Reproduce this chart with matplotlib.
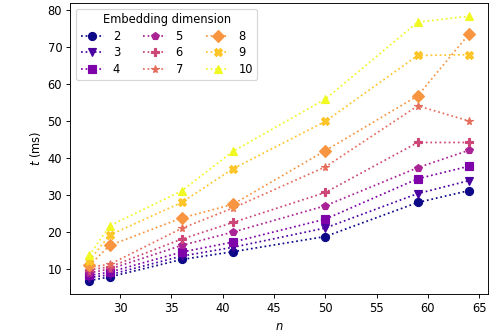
import numpy as np
import matplotlib
matplotlib.use("Agg")
import matplotlib.pyplot as plt

# sequence lengths
n = [27, 29, 36, 41, 50, 59, 64]

dims = [2, 3, 4, 5, 6, 7, 8, 9, 10]
markers = ["o", "v", "s", "p", "P", "*", "D", "X", "^"]

# time in ms, one list per embedding dimension
t_d2 = [6.9, 7.9, 12.6, 14.7, 18.8, 28.0, 31.2]
t_d3 = [7.7, 8.5, 13.5, 15.9, 21.1, 30.4, 33.9]
t_d4 = [8.3, 9.2, 14.6, 17.3, 23.5, 34.4, 37.8]
t_d5 = [9.0, 10.0, 16.4, 20.0, 27.1, 37.4, 42.1]
t_d6 = [9.8, 10.6, 18.1, 22.6, 30.7, 44.2, 44.2]
t_d7 = [10.5, 11.3, 21.0, 26.5, 37.6, 54.1, 50.0]
t_d8 = [11.0, 16.4, 23.8, 27.5, 42.0, 56.8, 73.5]
t_d9 = [12.3, 19.2, 28.0, 37.1, 49.9, 67.7, 67.9]
t_d10 = [13.7, 21.7, 31.1, 41.8, 55.9, 76.7, 78.3]

series = [t_d2, t_d3, t_d4, t_d5, t_d6, t_d7, t_d8, t_d9, t_d10]
colors = plt.cm.plasma(np.linspace(0, 1, len(dims)))

fig, ax = plt.subplots(figsize=(6, 4), dpi=83)
fig.subplots_adjust(left=0.141, right=0.98, top=0.991, bottom=0.115)

for d, t, m, c in zip(dims, series, markers, colors):
    ax.plot(n, t, ls=":", marker=m, color=c, lw=1.5, ms=7, label=str(d))

ax.set_xlabel("$n$")
ax.set_ylabel("$t$ (ms)")
ax.legend(title="Embedding dimension", ncol=3, loc="upper left",
          labelspacing=0.3)

fig.savefig("out.png", dpi=83)
